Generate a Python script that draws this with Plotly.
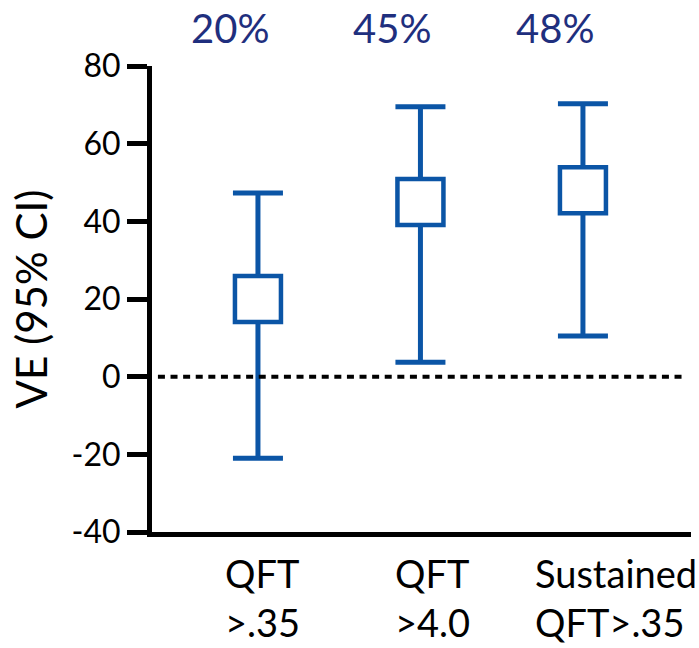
import plotly.graph_objects as go

categories = ["QFT<br>&gt;.35", "QFT<br>&gt;4.0", "Sustained<br>QFT&gt;.35"]
estimates = [20, 45, 48]
lower_ci = [-21, 3.7, 10.5]
upper_ci = [47.3, 69.5, 70.3]
y_ticks = [-40, -20, 0, 20, 40, 60, 80]

# label placement offsets (px) relative to each category position
label_xshift = [-35, -27, -50]
pct_xshift = -28

BLUE = "#0B55A6"
NAVY = "#1F2F7E"
FONT = "Lato"

xs = list(range(len(categories)))

fig = go.Figure()
fig.add_trace(go.Scatter(
    x=xs, y=estimates, mode="markers",
    marker=dict(symbol="square", size=46, color="white",
                line=dict(color=BLUE, width=4.5)),
    error_y=dict(type="data", symmetric=False,
                 array=[u - e for u, e in zip(upper_ci, estimates)],
                 arrayminus=[e - l for e, l in zip(estimates, lower_ci)],
                 color=BLUE, thickness=5, width=25),
    showlegend=False, cliponaxis=False, hoverinfo="skip",
))

# reference line at zero
fig.add_shape(type="line", xref="paper", yref="y", x0=0.011, x1=0.987, y0=0, y1=0,
              line=dict(color="black", width=4, dash="7px,5.6px"))

# VE labels on top
for x, e in zip(xs, estimates):
    fig.add_annotation(x=x, y=1.0815, xref="x", yref="paper", text=f"{e}%",
                       showarrow=False, xanchor="center", yanchor="middle",
                       xshift=pct_xshift, font=dict(family=FONT, size=40, color=NAVY))

# category labels
for x, c, s in zip(xs, categories, label_xshift):
    fig.add_annotation(x=x, y=-0.035, xref="x", yref="paper", text=c,
                       showarrow=False, xanchor="left", yanchor="top",
                       align="left", xshift=s,
                       font=dict(family=FONT, size=38, color="black"))

fig.update_layout(
    width=699, height=648,
    margin=dict(l=152, r=8, t=66, b=116),
    paper_bgcolor="white", plot_bgcolor="white",
    font=dict(family=FONT, color="black"),
    xaxis=dict(range=[-0.652, 2.665], showticklabels=False, ticks="",
               showline=True, linecolor="black", linewidth=5,
               showgrid=False, zeroline=False, fixedrange=True),
    yaxis=dict(range=[-40, 80], tickvals=y_ticks, ticktext=[str(v) for v in y_ticks],
               ticks="outside", ticklen=20, tickwidth=5, tickcolor="black",
               showline=True, linecolor="black", linewidth=5,
               showgrid=False, zeroline=False, fixedrange=True,
               tickfont=dict(family=FONT, size=32, color="black"),
               title=dict(text="VE (95% CI)", standoff=12,
                          font=dict(family=FONT, size=42, color="black"))),
)

fig.write_html("out.html", config={"displayModeBar": False},
               post_script="document.body.style.margin='0px';")
